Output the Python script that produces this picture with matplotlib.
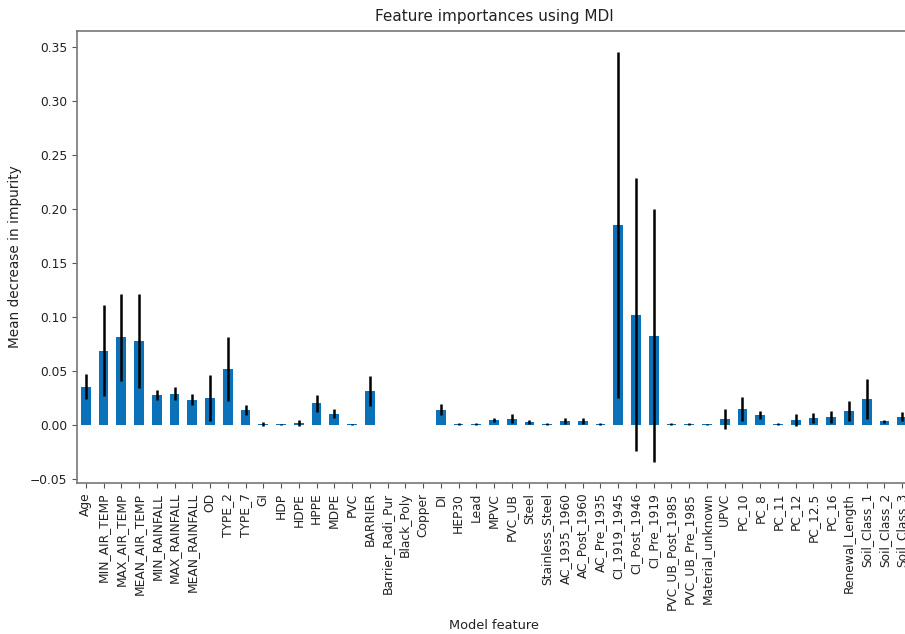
import matplotlib
matplotlib.use("Agg")
import matplotlib.pyplot as plt
import numpy as np

features = ["Age", "MIN_AIR_TEMP", "MAX_AIR_TEMP", "MEAN_AIR_TEMP", "MIN_RAINFALL",
            "MAX_RAINFALL", "MEAN_RAINFALL", "OD", "TYPE_2", "TYPE_7", "GI", "HDP",
            "HDPE", "HPPE", "MDPE", "PVC", "BARRIER", "Barrier_Radi_Pur", "Black_Poly",
            "Copper", "DI", "HEP30", "Lead", "MPVC", "PVC_UB", "Steel", "Stainless_Steel",
            "AC_1935_1960", "AC_Post_1960", "AC_Pre_1935", "CI_1919_1945", "CI_Post_1946",
            "CI_Pre_1919", "PVC_UB_Post_1985", "PVC_UB_Pre_1985", "Material_unknown",
            "UPVC", "PC_10", "PC_8", "PC_11", "PC_12", "PC_12.5", "PC_16",
            "Renewal_Length", "Soil_Class_1", "Soil_Class_2", "Soil_Class_3"]

importances = [0.0356, 0.0690, 0.0813, 0.0776, 0.0278,
               0.0288, 0.0235, 0.0250, 0.0520, 0.0139, 0.0012, 0.0005,
               0.0020, 0.0200, 0.0105, 0.0006, 0.0318, 0.0000, 0.0002,
               0.0002, 0.0142, 0.0012, 0.0012, 0.0045, 0.0060, 0.0030, 0.0012,
               0.0038, 0.0038, 0.0012, 0.1857, 0.1024,
               0.0829, 0.0012, 0.0012, 0.0008,
               0.0056, 0.0149, 0.0093, 0.0012, 0.0046, 0.0065, 0.0077,
               0.0126, 0.0241, 0.0033, 0.0077]

std = [0.0114, 0.0420, 0.0405, 0.0435, 0.0050,
       0.0060, 0.0050, 0.0210, 0.0300, 0.0050, 0.0020, 0.0005,
       0.0025, 0.0075, 0.0042, 0.0004, 0.0140, 0.0000, 0.0002,
       0.0002, 0.0050, 0.0008, 0.0008, 0.0018, 0.0040, 0.0018, 0.0008,
       0.0027, 0.0030, 0.0008, 0.1605, 0.1266,
       0.1176, 0.0008, 0.0008, 0.0005,
       0.0093, 0.0115, 0.0035, 0.0008, 0.0055, 0.0046, 0.0056,
       0.0093, 0.0185, 0.0015, 0.0040]

plt.rcParams['font.family'] = ['DejaVu Sans']
fig = plt.figure(figsize=(9.05, 6.34), dpi=100)
ax = fig.add_axes([77/905, 1 - 483/634, (911 - 77)/905, (483 - 31)/634])

x = np.arange(len(features))
ax.bar(x, importances, width=0.55, color='#0b72ba', yerr=std, ecolor='black',
       error_kw=dict(elinewidth=1.8))
ax.set_xlim(-0.5, len(features) - 0.5)
ax.set_xticks(x)
ax.set_xticklabels(features, rotation=90, fontsize=8.8, color='#222222')
ax.tick_params(axis='y', labelsize=8.8, labelcolor='#222222', colors='#555555')
ax.tick_params(axis='x', colors='#555555', labelcolor='#222222')
for s in ax.spines.values():
    s.set_color('#777777')
    s.set_linewidth(1.2)
ax.set_title("Feature importances using MDI", fontsize=11, color='#222222', pad=7)
ax.set_ylabel("Mean decrease in impurity", fontsize=9.8, color='#222222')
ax.set_xlabel("Model feature", fontsize=9.3, color='#222222')
ax.yaxis.set_label_coords((22 - 77) / 834, 0.5)
ax.xaxis.set_label_coords(0.5, (483 - 619) / 452)

fig.savefig("out.png", dpi=100)
